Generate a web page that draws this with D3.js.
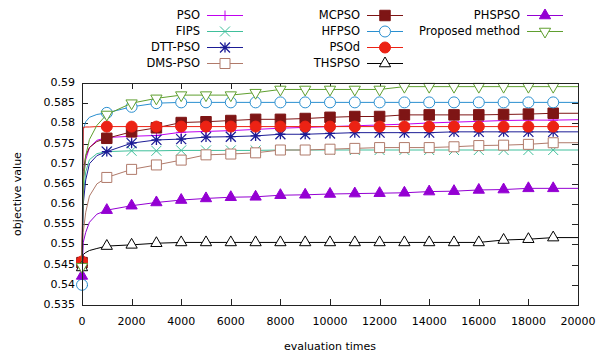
<!DOCTYPE html>
<html>
<head>
<meta charset="utf-8">
<script src="https://cdn.jsdelivr.net/npm/d3@7"></script>
<style>
  body { margin: 0; background: #fff; }
  text { font-family: "DejaVu Sans", sans-serif; font-size: 11px; fill: #000; }
</style>
</head>
<body>
<div id="chart"></div>
<script>
// x values (evaluation times); markers every 1000
const evals = [0, 50, 150, 300, 600, 1000, 2000, 3000, 4000, 5000, 6000, 7000, 8000, 9000, 10000,
  11000, 12000, 13000, 14000, 15000, 16000, 17000, 18000, 19000, 20000];

const psoVals = [0.5455, 0.566, 0.571, 0.574, 0.5758, 0.5765, 0.5768, 0.577, 0.5778, 0.578, 0.5782, 0.5785,
  0.5788, 0.579, 0.5792, 0.5794, 0.5796, 0.5798, 0.5801, 0.5803, 0.5805, 0.5807, 0.5808, 0.5808, 0.5809];
const fipsVals = [0.5455, 0.562, 0.568, 0.571, 0.5725, 0.573, 0.5732, 0.5732, 0.5733, 0.5733, 0.5733, 0.5733,
  0.5734, 0.5734, 0.5734, 0.5734, 0.5734, 0.5734, 0.5734, 0.5734, 0.5734, 0.5734, 0.5734, 0.5734, 0.5734];
const dttVals = [0.5455, 0.56, 0.566, 0.57, 0.572, 0.573, 0.5751, 0.5759, 0.5761, 0.5766, 0.5767, 0.5769,
  0.5773, 0.5773, 0.5775, 0.5777, 0.5777, 0.5777, 0.5777, 0.5779, 0.5779, 0.5779, 0.5779, 0.5779, 0.5779];
const dmsVals = [0.5455, 0.553, 0.558, 0.562, 0.565, 0.5666, 0.5686, 0.5697, 0.5709, 0.5722, 0.5724, 0.5727,
  0.5734, 0.5734, 0.5736, 0.5738, 0.574, 0.574, 0.574, 0.5742, 0.5745, 0.5746, 0.5748, 0.5752, 0.5752];
const mcpsoVals = [0.5455, 0.568, 0.572, 0.574, 0.5755, 0.5763, 0.5779, 0.5789, 0.5802, 0.5804, 0.5807, 0.581,
  0.581, 0.5812, 0.5815, 0.5817, 0.5817, 0.5821, 0.5821, 0.5821, 0.5821, 0.5822, 0.5823, 0.5825, 0.5825];
const hfpsoVals = [0.540, 0.5784, 0.5804, 0.5815, 0.5822, 0.5826, 0.5841, 0.585, 0.5852, 0.5852, 0.5852, 0.5852,
  0.5852, 0.5852, 0.5852, 0.5852, 0.5852, 0.5852, 0.5852, 0.5852, 0.5852, 0.5852, 0.5852, 0.5852, 0.5852];
const psodVals = [0.5458, 0.579, 0.5791, 0.5791, 0.5792, 0.5792, 0.5792, 0.5792, 0.5792, 0.5792, 0.5792, 0.5792,
  0.5792, 0.5792, 0.5792, 0.5792, 0.5792, 0.5792, 0.5792, 0.5792, 0.5792, 0.5792, 0.5792, 0.5792, 0.5792];
const thspsoVals = [0.5443, 0.5475, 0.548, 0.5485, 0.549, 0.5496, 0.5499, 0.5503, 0.5505, 0.5505, 0.5505, 0.5505,
  0.5505, 0.5505, 0.5505, 0.5505, 0.5505, 0.5505, 0.5505, 0.5505, 0.5505, 0.5511, 0.5513, 0.5517, 0.5517];
const phspsoVals = [0.5422, 0.5505, 0.553, 0.5555, 0.5575, 0.5585, 0.5596, 0.5604, 0.561, 0.5614, 0.5617, 0.5618,
  0.5622, 0.5623, 0.5625, 0.5626, 0.5627, 0.5628, 0.5631, 0.5632, 0.5635, 0.5636, 0.5639, 0.5639, 0.5639];
const proposedVals = [0.5445, 0.565, 0.572, 0.576, 0.5795, 0.5822, 0.585, 0.5862, 0.587, 0.587, 0.587, 0.5876,
  0.5884, 0.5884, 0.5884, 0.5884, 0.5884, 0.5891, 0.5891, 0.5891, 0.5891, 0.5891, 0.5891, 0.5891, 0.5891];

const seriesNames = ['PSO', 'FIPS', 'DTT-PSO', 'DMS-PSO', 'MCPSO', 'HFPSO', 'PSOd', 'THSPSO', 'PHSPSO', 'Proposed method'];

const xTicks = [0, 2000, 4000, 6000, 8000, 10000, 12000, 14000, 16000, 18000, 20000];
const yTicks = [0.535, 0.54, 0.545, 0.55, 0.555, 0.56, 0.565, 0.57, 0.575, 0.58, 0.585, 0.59];
const yTickLabels = ['0.535', '0.54', '0.545', '0.55', '0.555', '0.56', '0.565', '0.57', '0.575', '0.58', '0.585', '0.59'];

const series = [
  { name: seriesNames[0], values: psoVals, color: '#c000f0', marker: 'plus' },
  { name: seriesNames[1], values: fipsVals, color: '#3fbf9b', marker: 'cross' },
  { name: seriesNames[2], values: dttVals, color: '#1c1c96', marker: 'star' },
  { name: seriesNames[3], values: dmsVals, color: '#b07a6a', marker: 'square' },
  { name: seriesNames[4], values: mcpsoVals, color: '#7e1515', marker: 'squareFilled' },
  { name: seriesNames[5], values: hfpsoVals, color: '#2a8fd0', marker: 'circle' },
  { name: seriesNames[6], values: psodVals, color: '#ec2214', marker: 'circleFilled' },
  { name: seriesNames[7], values: thspsoVals, color: '#000000', marker: 'triangle' },
  { name: seriesNames[8], values: phspsoVals, color: '#9400d3', marker: 'triangleFilled' },
  { name: seriesNames[9], values: proposedVals, color: '#5f9f2f', marker: 'triangleDown' }
];

const W = 607, H = 355;
const plotLeft = 82, plotRight = 578, plotTop = 83, plotBottom = 305;

const svg = d3.select('#chart').append('svg')
  .attr('width', W)
  .attr('height', H);

const x = d3.scaleLinear().domain([0, 20000]).range([plotLeft, plotRight]);
const y = d3.scaleLinear().domain([0.535, 0.59]).range([plotBottom, plotTop]);

// ticks (gnuplot style: inward and mirrored)
const tickLen = 6;
const axes = svg.append('g').attr('stroke', '#222').attr('stroke-width', 1);
xTicks.forEach(t => {
  const px = Math.round(x(t)) + 0.5;
  axes.append('line').attr('x1', px).attr('x2', px).attr('y1', plotBottom).attr('y2', plotBottom - tickLen);
  axes.append('line').attr('x1', px).attr('x2', px).attr('y1', plotTop).attr('y2', plotTop + tickLen);
});
yTicks.forEach(t => {
  const py = Math.round(y(t)) + 0.5;
  axes.append('line').attr('x1', plotLeft).attr('x2', plotLeft + tickLen).attr('y1', py).attr('y2', py);
  axes.append('line').attr('x1', plotRight).attr('x2', plotRight - tickLen).attr('y1', py).attr('y2', py);
});

// tick labels
svg.append('g').selectAll('text').data(xTicks).join('text')
  .attr('x', d => x(d))
  .attr('y', 322)
  .attr('text-anchor', 'middle')
  .attr('dominant-baseline', 'middle')
  .text(d => d);

svg.append('g').selectAll('text').data(yTicks).join('text')
  .attr('x', 75)
  .attr('y', d => y(d))
  .attr('text-anchor', 'end')
  .attr('dominant-baseline', 'middle')
  .text((d, i) => yTickLabels[i]);

// axis titles
svg.append('text')
  .attr('x', (plotLeft + plotRight) / 2)
  .attr('y', 347)
  .attr('text-anchor', 'middle')
  .attr('dominant-baseline', 'middle')
  .text('evaluation times');

svg.append('text')
  .attr('transform', `translate(18, ${(plotTop + plotBottom) / 2}) rotate(-90)`)
  .attr('text-anchor', 'middle')
  .attr('dominant-baseline', 'middle')
  .text('objective value');

// marker drawing
function drawMarker(g, type, color) {
  const s = 5;
  if (type === 'plus') {
    g.append('path').attr('d', `M${-s},0H${s}M0,${-s}V${s}`).attr('stroke', color).attr('fill', 'none');
  } else if (type === 'cross') {
    g.append('path').attr('d', `M${-s},${-s}L${s},${s}M${-s},${s}L${s},${-s}`).attr('stroke', color).attr('fill', 'none');
  } else if (type === 'star') {
    g.append('path').attr('d', `M${-s},0H${s}M0,${-s}V${s}M${-s},${-s}L${s},${s}M${-s},${s}L${s},${-s}`)
      .attr('stroke', color).attr('stroke-width', 1.3).attr('fill', 'none');
  } else if (type === 'square' || type === 'squareFilled') {
    const filled = type === 'squareFilled';
    g.append('path').attr('d', d3.symbol(d3.symbolSquare, filled ? 110 : 100)())
      .attr('fill', filled ? color : '#fff').attr('stroke', color);
  } else if (type === 'circle' || type === 'circleFilled') {
    const filled = type === 'circleFilled';
    g.append('path').attr('d', d3.symbol(d3.symbolCircle, 95)())
      .attr('fill', filled ? color : '#fff').attr('stroke', color);
  } else {
    const filled = type === 'triangleFilled';
    g.append('path').attr('d', d3.symbol(d3.symbolTriangle, 55)())
      .attr('transform', type === 'triangleDown' ? 'rotate(180)' : null)
      .attr('fill', filled ? color : '#fff').attr('stroke', color);
  }
}

// curves
const line = d3.line().x(d => x(d[0])).y(d => y(d[1]));
const plot = svg.append('g');
series.forEach(s => {
  const pts = evals.map((e, i) => [e, s.values[i]]);
  plot.append('path')
    .datum(pts)
    .attr('d', line)
    .attr('fill', 'none')
    .attr('stroke', s.color)
    .attr('stroke-width', 1);
  pts.filter(p => p[0] % 1000 === 0 && p[0] < 20000).forEach(p => {
    const g = plot.append('g').attr('transform', `translate(${x(p[0])},${y(p[1])})`);
    drawMarker(g, s.marker, s.color);
  });
});

// frame
svg.append('rect')
  .attr('x', plotLeft + 0.5).attr('y', plotTop + 0.5)
  .attr('width', plotRight - plotLeft).attr('height', plotBottom - plotTop)
  .attr('fill', 'none').attr('stroke', '#222');

// legend
const legendCols = [
  { textRight: 200, x1: 207, x2: 243 },
  { textRight: 360, x1: 367, x2: 403 },
  { textRight: 520, x1: 527, x2: 563 }
];
const rowsY = [15, 31, 47, 63];
const legend = svg.append('g');
series.forEach((s, i) => {
  const col = legendCols[i < 4 ? 0 : (i < 8 ? 1 : 2)];
  const row = i < 4 ? i : (i < 8 ? i - 4 : i - 8);
  const ly = rowsY[row];
  legend.append('text')
    .attr('x', col.textRight)
    .attr('y', ly)
    .attr('text-anchor', 'end')
    .attr('dominant-baseline', 'middle')
    .style('font-size', '11.5px')
    .text(s.name);
  legend.append('line')
    .attr('x1', col.x1).attr('x2', col.x2)
    .attr('y1', ly + 0.5).attr('y2', ly + 0.5)
    .attr('stroke', s.color);
  const g = legend.append('g').attr('transform', `translate(${(col.x1 + col.x2) / 2},${ly + 0.5})`);
  drawMarker(g, s.marker, s.color);
});
</script>
</body>
</html>
